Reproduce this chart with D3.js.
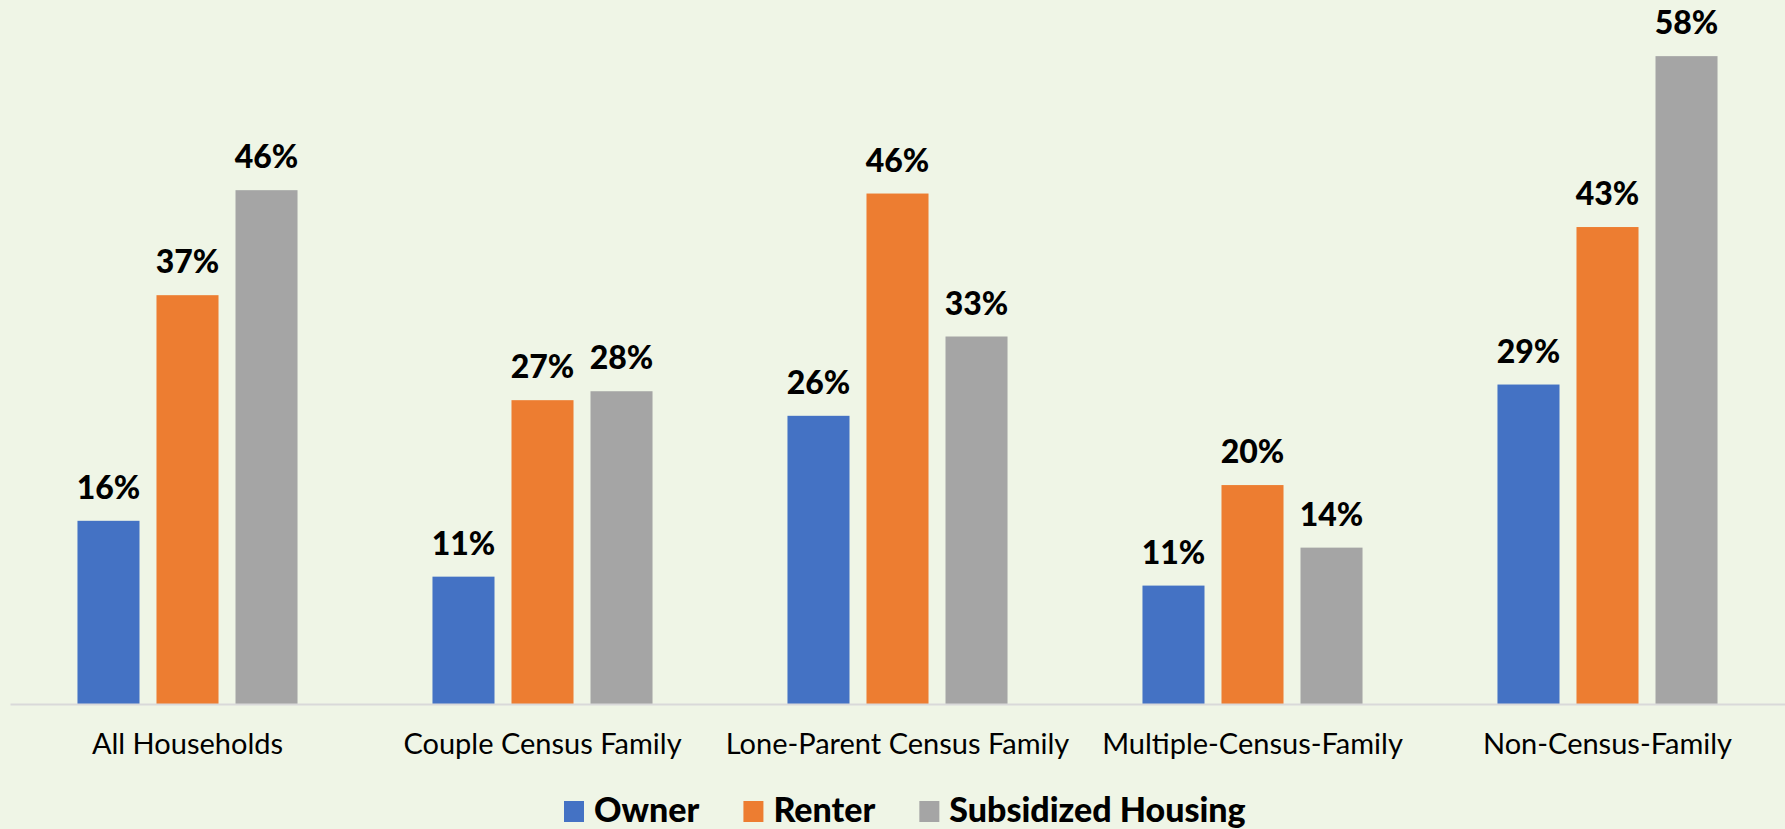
<!DOCTYPE html>
<html>
<head>
<meta charset="utf-8">
<script src="https://cdn.jsdelivr.net/npm/d3@7"></script>
<style>
  html, body { margin: 0; padding: 0; background: #eff5e6; }
  svg { display: block; }
</style>
</head>
<body>
<svg id="chart"></svg>
<script>
const width = 1785;
const height = 829;

const categories = ['All Households', 'Couple Census Family', 'Lone-Parent Census Family', 'Multiple-Census-Family', 'Non-Census-Family'];
const seriesNames = ['Owner', 'Renter', 'Subsidized Housing'];
const ownerValues = [16.4, 11.4, 25.8, 10.6, 28.6];
const renterValues = [36.6, 27.2, 45.7, 19.6, 42.7];
const subsidizedValues = [46.0, 28.0, 32.9, 14.0, 58.0];
const colors = ['#4472c4', '#ed7d31', '#a5a5a5'];

const seriesValues = [ownerValues, renterValues, subsidizedValues];
const rows = categories.map((c, i) => ({
    category: c,
    values: seriesNames.map((s, j) => ({ series: s, value: seriesValues[j][i] }))
}));

const svg = d3.select('#chart')
    .attr('width', width)
    .attr('height', height)
    .style('background', '#eff5e6');

const baseY = 704;

const x0 = d3.scaleBand()
    .domain(categories)
    .range([10, 1785])
    .padding(0);

const x1 = d3.scaleBand()
    .domain(seriesNames)
    .range([0, x0.bandwidth()])
    .paddingInner(0.215)
    .paddingOuter(0.854);

const y = d3.scaleLinear()
    .domain([0, 60])
    .range([baseY, baseY - 60 * 11.17]);

const color = d3.scaleOrdinal().domain(seriesNames).range(colors);

// bars
const groups = svg.append('g')
    .selectAll('g')
    .data(rows)
    .join('g')
    .attr('transform', d => `translate(${x0(d.category)},0)`);

groups.selectAll('rect')
    .data(d => d.values)
    .join('rect')
    .attr('x', d => x1(d.series))
    .attr('y', d => y(d.value))
    .attr('width', x1.bandwidth())
    .attr('height', d => y(0) - y(d.value))
    .attr('fill', d => color(d.series));

groups.selectAll('text.label')
    .data(d => d.values)
    .join('text')
    .attr('class', 'label')
    .attr('x', d => x1(d.series) + x1.bandwidth() / 2)
    .attr('y', d => y(d.value) - 22)
    .attr('text-anchor', 'middle')
    .style('font-family', 'Lato, sans-serif')
    .style('font-weight', '900')
    .style('font-size', '32px')
    .attr('fill', '#000')
    .text(d => Math.round(d.value) + '%');

// x axis
const xAxis = svg.append('g')
    .attr('transform', `translate(0,${baseY})`)
    .call(d3.axisBottom(x0).tickSize(0).tickPadding(50));

xAxis.select('.domain')
    .attr('stroke', '#d9d9d9')
    .attr('stroke-width', 2);

xAxis.selectAll('text')
    .style('font-family', 'Lato, sans-serif')
    .style('font-size', '29px')
    .attr('fill', '#000')
    .attr('dy', 0);

// legend
const legend = svg.append('g');
const items = legend.selectAll('g')
    .data(seriesNames)
    .join('g');

items.append('rect')
    .attr('width', 20)
    .attr('height', 21)
    .attr('y', -21)
    .attr('fill', d => color(d));

items.append('text')
    .attr('x', 30)
    .attr('y', 0)
    .style('font-family', 'Lato, sans-serif')
    .style('font-weight', '900')
    .style('font-size', '34px')
    .attr('fill', '#000')
    .text(d => d);

let offset = 0;
items.each(function () {
    const w = 30 + this.querySelector('text').getComputedTextLength();
    d3.select(this).attr('transform', `translate(${offset},0)`);
    offset += w + 44;
});
legend.attr('transform', 'translate(564,822)');
</script>
</body>
</html>
